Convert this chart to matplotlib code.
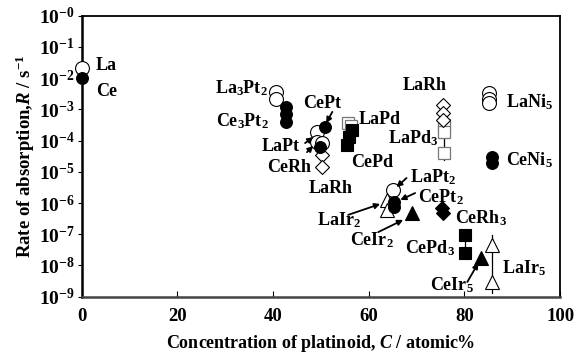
import numpy as np
import matplotlib
matplotlib.use('Agg')
import matplotlib.pyplot as plt

plt.rcParams['font.family'] = 'Liberation Serif'
plt.rcParams['font.weight'] = 'bold'
plt.rcParams['mathtext.fontset'] = 'custom'
plt.rcParams['mathtext.rm'] = 'Liberation Serif:bold'
plt.rcParams['mathtext.it'] = 'Liberation Serif:italic:bold'
plt.rcParams['mathtext.bf'] = 'Liberation Serif:bold'

# concentration of platinoid (at%) and rate of absorption (1/s)
la_c, la_r = [0.0], [2.1e-2]
ce_c, ce_r = [0.0], [1.0e-2]
la3pt2_c, la3pt2_r = [40.6, 40.6], [3.7e-3, 2.2e-3]
ce3pt2_c, ce3pt2_r = [42.8, 42.8, 42.8], [1.2e-3, 7.1e-4, 4.0e-4]
lapt_c, lapt_r = [49.2, 49.2, 50.2], [1.9e-4, 9.2e-5, 8.2e-5]
cept_c, cept_r = [50.9, 49.9], [2.8e-4, 6.3e-5]
cerh_c, cerh_r = [50.2, 50.2], [3.5e-5, 1.45e-5]
lapd_c, lapd_r = [55.6, 56.3], [3.6e-4, 2.9e-4]
cepd_c, cepd_r = [56.5, 55.9, 55.5], [2.2e-4, 1.33e-4, 7.2e-5]
larh_c, larh_r = [75.6, 75.6, 75.6], [1.4e-3, 7.5e-4, 4.6e-4]
lapd3_c, lapd3_r = [75.8, 75.8, 75.8], [3.2e-4, 1.9e-4, 3.9e-5]
lapd3_range = [4.6e-4, 2.4e-5]
lani5_c, lani5_r = [85.1, 85.1, 85.1], [3.3e-3, 2.2e-3, 1.56e-3]
ceni5_c, ceni5_r = [85.8, 85.8], [3.0e-5, 1.9e-5]
lapt2_c, lapt2_r = [65.0], [2.6e-6]
lair2_c, lair2_r = [63.8, 63.8], [1.25e-6, 6.0e-7]
cept2_c, cept2_r = [65.2, 65.3], [1.1e-6, 7.6e-7]
ceir2_c, ceir2_r = [69.0], [4.7e-7]
cerh3_c, cerh3_r = [75.3, 75.5], [6.8e-7, 4.7e-7]
cepd3_c, cepd3_r = [80.1, 80.1], [9.5e-8, 2.5e-8]
ceir5_c, ceir5_r = [83.5], [1.8e-8]
lair5_c, lair5_r = [85.8, 85.8], [4.6e-8, 3.0e-9]
lair5_range = [9.5e-8, 1.3e-9]

# labels: text, x, log10 y
labels = [
    ('La', 3.0, -1.58), ('Ce', 3.0, -2.44),
    ('La$_3$Pt$_2$', 27.9, -2.32), ('Ce$_3$Pt$_2$', 28.1, -3.37),
    ('CePt', 46.3, -2.80), ('LaPd', 57.8, -3.34), ('LaPd$_3$', 64.1, -3.92),
    ('CePd', 56.3, -4.69), ('LaPt', 37.7, -4.20), ('CeRh', 38.8, -4.85),
    ('LaRh', 47.4, -5.52), ('LaRh', 67.0, -2.22),
    ('LaNi$_5$', 88.6, -2.76), ('CeNi$_5$', 88.6, -4.62),
    ('LaPt$_2$', 68.7, -5.17), ('CePt$_2$', 70.4, -5.81),
    ('LaIr$_2$', 49.2, -6.54), ('CeIr$_2$', 56.1, -7.18),
    ('CeRh$_3$', 78.1, -6.48), ('CePd$_3$', 67.6, -7.44),
    ('CeIr$_5$', 72.9, -8.63), ('LaIr$_5$', 87.9, -8.08),
]
# arrows: (x0, logy0) -> (x1, logy1)
arrows = [
    (52.4, -3.08, 51.1, -3.44),
    (46.7, -4.08, 48.4, -3.89),
    (47.1, -4.37, 48.4, -4.17),
    (67.9, -5.20, 65.8, -5.49),
    (69.7, -5.68, 66.6, -5.90),
    (55.7, -6.38, 62.4, -6.03),
    (62.0, -6.93, 67.2, -6.54),
    (80.6, -8.53, 82.9, -7.92),
]

fig = plt.figure(figsize=(5.78, 3.55), dpi=100)
ax = fig.add_axes([0.1413, 0.1642, 0.8277, 0.7916])

open_kw = dict(linestyle='none', mfc='white', mec='black', mew=0.8)
fill_kw = dict(linestyle='none', mfc='black', mec='black', mew=0.8)

# error bars / connecting lines
ax.plot([lapd3_c[0]] * 2, lapd3_range, color='black', lw=0.9, zorder=2)
ax.plot(cepd3_c, cepd3_r, color='black', lw=0.9, zorder=2)
ax.plot([lair5_c[0]] * 2, lair5_range, color='black', lw=0.9, zorder=2)

# open markers
for c, r in [(la_c, la_r), (la3pt2_c, la3pt2_r), (lapt_c, lapt_r),
             (lani5_c, lani5_r), (lapt2_c, lapt2_r)]:
    ax.plot(c, r, marker='o', ms=10, zorder=3, clip_on=False, **open_kw)
for c, r in [(lapd_c, lapd_r), (lapd3_c, lapd3_r)]:
    ax.plot(c, r, marker='s', ms=8.5, zorder=3, linestyle='none',
            mfc='white', mec='#777777', mew=0.9)
for c, r in [(cerh_c, cerh_r), (larh_c, larh_r)]:
    ax.plot(c, r, marker='D', ms=7.5, zorder=3, **open_kw)
for c, r in [(lair2_c, lair2_r), (lair5_c, lair5_r)]:
    ax.plot(c, r, marker='^', ms=10, zorder=3, **open_kw)

# filled markers
for c, r in [(ce_c, ce_r), (ce3pt2_c, ce3pt2_r), (cept_c, cept_r),
             (ceni5_c, ceni5_r), (cept2_c, cept2_r)]:
    ax.plot(c, r, marker='o', ms=8.5, zorder=4, clip_on=False, **fill_kw)
for c, r in [(cepd_c, cepd_r), (cepd3_c, cepd3_r)]:
    ax.plot(c, r, marker='s', ms=8, zorder=4, **fill_kw)
ax.plot(cerh3_c, cerh3_r, marker='D', ms=7, zorder=4, **fill_kw)
for c, r in [(ceir2_c, ceir2_r), (ceir5_c, ceir5_r)]:
    ax.plot(c, r, marker='^', ms=10, zorder=4, **fill_kw)

for txt, x, ly in labels:
    ax.text(x, 10 ** ly, txt, fontsize=13, fontweight='bold',
            ha='left', va='center', zorder=5)

for x0, y0, x1, y1 in arrows:
    ax.annotate('', xy=(x1, 10 ** y1), xytext=(x0, 10 ** y0),
                arrowprops=dict(arrowstyle='-|>', color='black', lw=1.3,
                                mutation_scale=8, shrinkA=0, shrinkB=0),
                zorder=5)

ax.set_yscale('log')
ax.set_xlim(0, 100)
ax.set_ylim(1e-9, 1)
ax.set_xticks([0, 20, 40, 60, 80, 100])
ax.set_xticklabels(['0', '20', '40', '60', '80', '100'])
ax.set_yticks([10.0 ** -k for k in range(10)])
ax.set_yticklabels(['10$^{-%d}$' % k for k in range(10)])
ax.yaxis.set_minor_locator(matplotlib.ticker.NullLocator())
ax.tick_params(axis='x', direction='in', length=4, labelsize=13.5, pad=8)
ax.tick_params(axis='y', direction='out', length=3, labelsize=14, pad=2)
for lab in ax.get_xticklabels() + ax.get_yticklabels():
    lab.set_fontweight('bold')

ax.spines['left'].set_linewidth(1.8)
ax.spines['bottom'].set_linewidth(1.8)
ax.spines['bottom'].set_color('#444444')
ax.spines['top'].set_linewidth(1.3)
ax.spines['right'].set_linewidth(1.3)

ax.set_xlabel('Concentration of platinoid, $\\mathit{C}$ / atomic%',
              fontsize=13, fontweight='bold', labelpad=6)
ax.set_ylabel('Rate of absorption,$\\mathit{R}$ / s$^{-1}$',
              fontsize=13.5, fontweight='bold', labelpad=1)

fig.savefig('out.png', dpi=100)
